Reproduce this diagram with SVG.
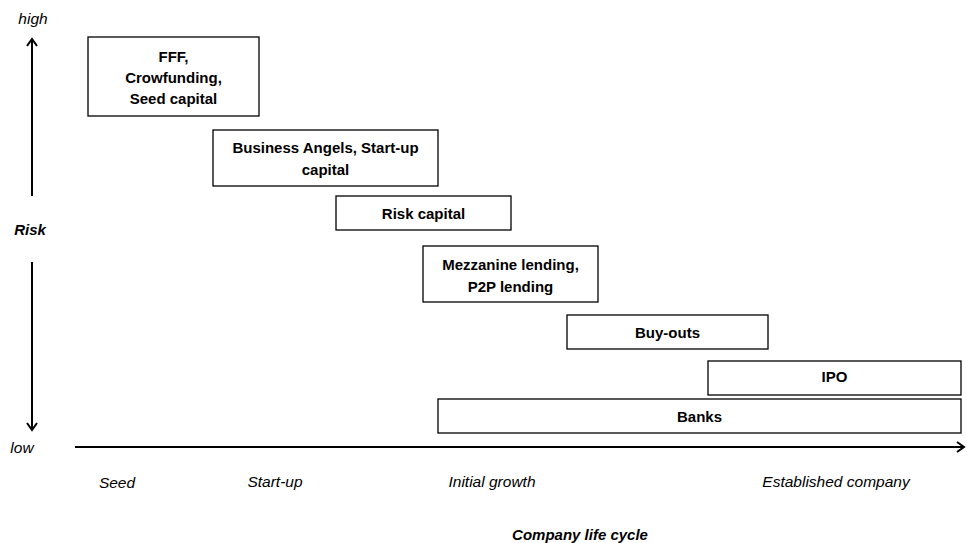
<svg xmlns="http://www.w3.org/2000/svg" width="967" height="543" viewBox="0 0 967 543">
<style>
.box{fill:#fff;stroke:#000;stroke-width:1.3}
.lbl{font-family:"Liberation Sans",Arial,sans-serif;font-weight:bold;font-size:15px;text-anchor:middle;fill:#000}
.ax{font-family:"Liberation Sans",Arial,sans-serif;font-style:italic;font-size:15.5px;text-anchor:middle;fill:#000}
.axb{font-family:"Liberation Sans",Arial,sans-serif;font-style:italic;font-weight:bold;font-size:15px;text-anchor:middle;fill:#000}
.line{stroke:#000;stroke-width:2;fill:none}
</style>
<defs>
<marker id="arr" markerWidth="12" markerHeight="12" refX="9" refY="6" orient="auto" markerUnits="userSpaceOnUse">
<path d="M2,1 L9,6 L2,11" fill="none" stroke="#000" stroke-width="2"/>
</marker>
</defs>
<g id="connectors">
<line class="line" x1="32" y1="196" x2="32" y2="39" marker-end="url(#arr)"/>
<line class="line" x1="32" y1="262" x2="32" y2="430" marker-end="url(#arr)"/>
<line class="line" x1="75" y1="447" x2="964" y2="447" marker-end="url(#arr)"/>
</g>
<g id="axis-labels">
<text class="ax" x="33" y="24">high</text>
<text class="axb" x="30" y="235">Risk</text>
<text class="ax" x="22" y="453">low</text>
<text class="ax" x="117" y="488">Seed</text>
<text class="ax" x="275" y="487">Start-up</text>
<text class="ax" x="492" y="487">Initial growth</text>
<text class="ax" x="836" y="487">Established company</text>
<text class="axb" x="580" y="540">Company life cycle</text>
</g>
<g id="n1"><rect class="box" x="88" y="37" width="171" height="79"/>
<text class="lbl" x="173.5" y="62">FFF,</text>
<text class="lbl" x="173.5" y="83">Crowfunding,</text>
<text class="lbl" x="173.5" y="104">Seed capital</text></g>
<g id="n2"><rect class="box" x="213" y="130" width="225" height="56"/>
<text class="lbl" x="325.5" y="153">Business Angels, Start-up</text>
<text class="lbl" x="325.5" y="175">capital</text></g>
<g id="n3"><rect class="box" x="336" y="196" width="175" height="34"/>
<text class="lbl" x="423.5" y="219">Risk capital</text></g>
<g id="n4"><rect class="box" x="423" y="246" width="175" height="56"/>
<text class="lbl" x="510.5" y="270">Mezzanine lending,</text>
<text class="lbl" x="510.5" y="292">P2P lending</text></g>
<g id="n5"><rect class="box" x="567" y="315" width="201" height="34"/>
<text class="lbl" x="667.5" y="338">Buy-outs</text></g>
<g id="n6"><rect class="box" x="708" y="361" width="253" height="34"/>
<text class="lbl" x="834.5" y="382">IPO</text></g>
<g id="n7"><rect class="box" x="438" y="399" width="523" height="34"/>
<text class="lbl" x="699.5" y="422">Banks</text></g>
</svg>
